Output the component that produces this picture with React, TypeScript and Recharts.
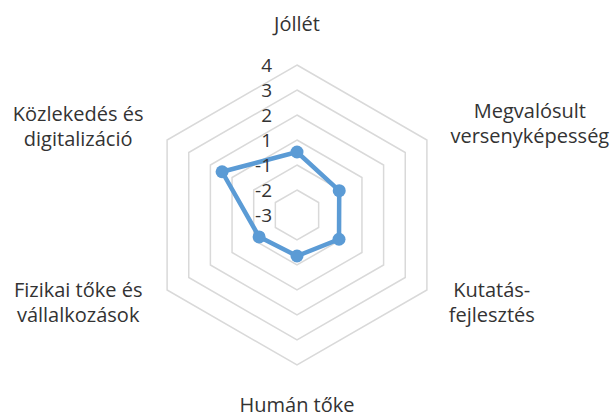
import { RadarChart, Radar, PolarGrid, PolarAngleAxis, PolarRadiusAxis } from 'recharts'

// categories, clockwise from the top
const CATEGORIES = [
  'Jóllét',
  'Megvalósult\nversenyképesség',
  'Kutatás-\nfejlesztés',
  'Humán tőke',
  'Fizikai tőke és\nvállalkozások',
  'Közlekedés és\ndigitalizáció',
]
const VALUES = [-0.48, -1.05, -1.06, -1.36, -1.25, 0.46]
const RADIUS_TICKS = [-3, -2, -1, 0, 1, 2, 3]
const RADIUS_LABELS = ['-3', '-2', '-1', '1', '2', '3', '4']

const data = CATEGORIES.map((name, i) => ({ name, value: VALUES[i] }))

const FONT = '"Open Sans", sans-serif'
const TEXT = '#333333'
const BLUE = '#5B9BD5'

// offsets of each label block centre from the tick point
const LABEL_OFFSETS = [
  [0, -33],
  [96, -13],
  [58, 8],
  [0, 32],
  [-82, 8],
  [-82, -10],
]

const AngleTick = ({ x, y, payload, index }: any) => {
  const lines = String(payload.value).split('\n')
  const [dx, dy] = LABEL_OFFSETS[index] || [0, 0]
  const lh = 25
  const top = y + dy - ((lines.length - 1) * lh) / 2
  return (
    <text x={x + dx} y={top} textAnchor="middle" fill={TEXT} fontSize={20} fontFamily={FONT}>
      {lines.map((l, i) => (
        <tspan key={i} x={x + dx} y={top + i * lh} dy="0.35em">{l}</tspan>
      ))}
    </text>
  )
}

const RadiusTick = ({ x, y, payload }: any) => {
  const idx = RADIUS_TICKS.indexOf(payload.value)
  return (
    <text x={x - 25} y={y} dy="0.35em" textAnchor="end" fill={TEXT} fontSize={19} fontFamily={FONT}>
      {RADIUS_LABELS[idx]}
    </text>
  )
}

const Dot = ({ cx, cy }: any) => <circle cx={cx} cy={cy} r={6.5} fill={BLUE} />

export default function App() {
  return (
    <div style={{ position: 'absolute', left: 0, top: 0, width: 614, height: 417, background: '#fff' }}>
      <RadarChart width={614} height={417} data={data} cx={297} cy={215} outerRadius={150}>
        <PolarGrid gridType="polygon" radialLines={false} stroke="#d9d9d9" strokeWidth={1.5} />
        <PolarAngleAxis dataKey="name" tick={<AngleTick />} tickLine={false} axisLine={false} />
        <PolarRadiusAxis
          angle={90}
          domain={[-3, 3]}
          tickCount={7}
          axisLine={false}
          tick={<RadiusTick />}
        />
        <Radar
          dataKey="value"
          stroke={BLUE}
          strokeWidth={4.5}
          fill="none"
          fillOpacity={0}
          dot={<Dot />}
          isAnimationActive={false}
        />
      </RadarChart>
    </div>
  )
}
